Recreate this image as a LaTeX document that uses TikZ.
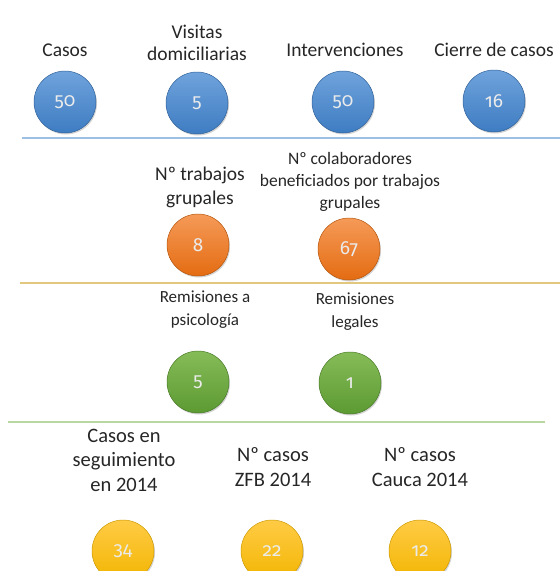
\documentclass[tikz,border=0pt]{standalone}
\usepackage{fontspec}
\setmainfont{Carlito}
\newfontfamily\numfont{Fira Sans}[Numbers=OldStyle]
\usetikzlibrary{shadows}
\definecolor{bluetop}{HTML}{6FA3DC}
\definecolor{bluebot}{HTML}{3E7CC2}
\definecolor{orgtop}{HTML}{F59A58}
\definecolor{orgbot}{HTML}{E46C12}
\definecolor{grntop}{HTML}{86BC58}
\definecolor{grnbot}{HTML}{5C9A32}
\definecolor{yeltop}{HTML}{FFCB45}
\definecolor{yelbot}{HTML}{F2B500}
\definecolor{lineblue}{HTML}{9DBFE3}
\definecolor{linetan}{HTML}{E2C77E}
\definecolor{linegrn}{HTML}{B9D7A0}
\definecolor{txt}{HTML}{262626}
\tikzset{
  bubble/.style={circle, minimum size=62pt, inner sep=0pt, text=white!92!black,
    font=\numfont\fontsize{19}{19}\selectfont, shading=axis, shading angle=0,
    drop shadow={shadow xshift=1pt, shadow yshift=-1.5pt, opacity=0.35}},
  bluec/.style={bubble, top color=bluetop, bottom color=bluebot, draw=bluebot!80!black, line width=0.5pt},
  orgc/.style={bubble, top color=orgtop, bottom color=orgbot, draw=orgbot!80!black, line width=0.5pt},
  grnc/.style={bubble, top color=grntop, bottom color=grnbot, draw=grnbot!80!black, line width=0.5pt},
  yelc/.style={bubble, top color=yeltop, bottom color=yelbot, draw=yelbot!85!black, line width=0.5pt},
  lab/.style={align=center, text=txt, inner sep=0pt, font=\fontsize{19.5}{22}\selectfont},
  labg/.style={align=center, text=txt, inner sep=0pt, font=\fontsize{19.5}{24}\selectfont},
  labs/.style={align=center, text=txt, inner sep=0pt, font=\fontsize{17.5}{22}\selectfont},
  labxs/.style={align=center, text=txt, inner sep=0pt, font=\fontsize{17}{23}\selectfont},
  labf/.style={align=center, text=txt, inner sep=0pt, font=\fontsize{20.5}{24.5}\selectfont},
  sep/.style={line width=1.2pt}
}
\begin{document}
\begin{tikzpicture}[x=1pt,y=-1pt]
\useasboundingbox (0,0) rectangle (560,571);
% row 1
\node[lab] (l1) at (65,50) {Casos};
\node[lab] (l2) at (197,43) {Visitas\\domiciliarias};
\node[lab] (l3) at (345,50) {Intervenciones};
\node[lab] (l4) at (494,50) {Cierre de casos};
\node[bluec] (c1) at (65,102) {50};
\node[bluec] (c2) at (197,103) {5};
\node[bluec] (c3) at (343,102) {50};
\node[bluec] (c4) at (494,101) {16};
\coordinate (s1a) at (22,138); \coordinate (s1b) at (560,138);
\draw[sep, draw=lineblue] (s1a) -- (s1b);
% row 2
\node[labg] (m1) at (200,187) {Nº trabajos\\grupales};
\node[labs] (m2) at (350,182) {Nº colaboradores\\beneficiados por trabajos\\grupales};
\node[orgc] (o1) at (198,245) {8};
\node[orgc] (o2) at (349,249) {67};
\coordinate (s2a) at (20,283); \coordinate (s2b) at (560,283);
\draw[sep, draw=linetan] (s2a) -- (s2b);
% row 3
\node[labxs] (r1) at (205,310) {Remisiones a\\psicología};
\node[labxs] (r2) at (355,312) {Remisiones\\legales};
\node[grnc] (g1) at (198,382) {5};
\node[grnc] (g2) at (350,383) {1};
\coordinate (s3a) at (8,422); \coordinate (s3b) at (545,422);
\draw[sep, draw=linegrn] (s3a) -- (s3b);
% row 4
\node[labf] (t1) at (124,460) {Casos en\\seguimiento\\en 2014};
\node[labf] (t2) at (273,467) {Nº casos\\ZFB 2014};
\node[labf] (t3) at (420,467) {Nº casos\\Cauca 2014};
\node[yelc] (y1) at (123,551) {34};
\node[yelc] (y2) at (272,551) {22};
\node[yelc] (y3) at (420,551) {12};
\end{tikzpicture}
\end{document}
